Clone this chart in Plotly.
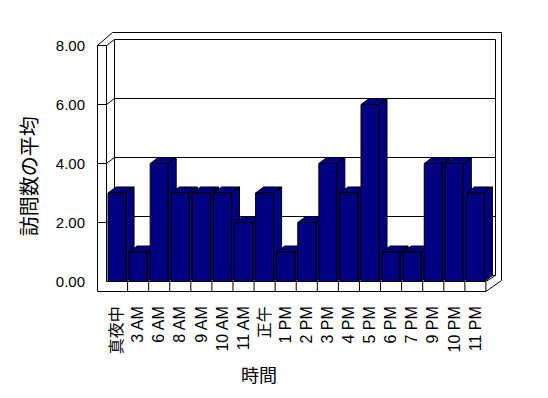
import plotly.graph_objects as go

# ---------------- data ----------------
categories = ["真夜中", "3 AM", "6 AM", "8 AM", "9 AM", "10 AM", "11 AM", "正午",
              "1 PM", "2 PM", "3 PM", "4 PM", "5 PM", "6 PM", "7 PM", "9 PM",
              "10 PM", "11 PM"]
avg_visits = [3, 1, 4, 3, 3, 3, 2, 3, 1, 2, 4, 3, 6, 1, 1, 4, 4, 3]
y_ticks = [0, 2, 4, 6, 8]
y_tick_labels = ["0.00", "2.00", "4.00", "6.00", "8.00"]
y_title = "訪問数の平均"
x_title = "時間"

# ---------------- geometry (pixels) ----------------
W, H = 548, 398
ML, MR, MT, MB = 90, 38, 20, 101
PW, PH = W - ML - MR, H - MT - MB
PITCH = 21.08      # px per category
X0PX = 106.5       # pixel of left floor edge (category -0.5)
YU = 29.5          # px per value unit
Y0PX = 281.5       # pixel of front zero level
DXPX, DYPX = 8.0, 6.0   # depth offset in px


def px2x(p):
    return (p - X0PX) / PITCH - 0.5


def px2y(p):
    return (Y0PX - p) / YU


DX = DXPX / PITCH
DY = DYPX / YU
BW = 9.0 / PITCH   # half bar width

x_range = [px2x(ML), px2x(W - MR)]
y_range = [px2y(H - MB), px2y(MT)]

NAVY = "#000080"
FONT_LAT = "Liberation Sans, Arial, Noto Sans CJK JP, sans-serif"
FONT_CJK = "Noto Sans CJK JP, sans-serif"

fig = go.Figure()

# ---------------- 3D bars (side, top, front faces) ----------------
for i, v in enumerate(avg_visits):
    xl, xr = i - BW, i + BW
    side = [(xr, 0), (xr + DX, DY), (xr + DX, v + DY), (xr, v), (xr, 0)]
    top = [(xl, v), (xr, v), (xr + DX, v + DY), (xl + DX, v + DY), (xl, v)]
    front = [(xl, 0), (xr, 0), (xr, v), (xl, v), (xl, 0)]
    xs, ys = [], []
    for poly in (side, top, front):
        xs += [p[0] for p in poly] + [None]
        ys += [p[1] for p in poly] + [None]
    fig.add_trace(go.Scatter(
        x=xs, y=ys, mode="lines", fill="toself", fillcolor=NAVY,
        line=dict(color="black", width=1), hoverinfo="skip",
        showlegend=False, name=categories[i]))

# ---------------- walls / floor (decoration shapes) ----------------
def path(points, close=True):
    s = "M " + " L ".join(f"{px2x(a)},{px2y(b)}" for a, b in points)
    return s + (" Z" if close else "")


shapes = []
LINE = dict(color="black", width=1)
outer = [(97.5, 45.5), (97.5, 291.5), (485.9, 291.5), (501.5, 280.5),
         (501.5, 32.5), (112.5, 32.5)]
shapes.append(dict(type="path", path=path(outer), xref="x", yref="y",
                   fillcolor="white", line=LINE, layer="below"))
back = [(114.5, 39.5), (495.5, 39.5), (495.5, 275.5), (114.5, 275.5)]
shapes.append(dict(type="path", path=path(back), xref="x", yref="y",
                   fillcolor="white", line=LINE, layer="below"))
shapes.append(dict(type="path", path=path([(97.5, 45.5), (106.5, 45.5), (114.5, 39.5)], False),
                   xref="x", yref="y", line=LINE, layer="below"))
shapes.append(dict(type="path",
                   path=path([(106.5, 45.5), (106.5, 281.5), (485.9, 281.5), (485.9, 291.5)], False),
                   xref="x", yref="y", line=LINE, layer="below"))
shapes.append(dict(type="path", path=path([(485.9, 281.5), (495.5, 275.5)], False),
                   xref="x", yref="y", line=LINE, layer="below"))
for v in y_ticks[1:-1]:
    fy = Y0PX - v * YU
    by = fy - DYPX
    shapes.append(dict(type="path", path=path([(114.5, by), (495.5, by)], False),
                       xref="x", yref="y", line=LINE, layer="below"))
    shapes.append(dict(type="path", path=path([(97.5, fy), (106.5, fy), (114.5, by)], False),
                       xref="x", yref="y", line=LINE, layer="below"))
for k in range(1, len(categories)):
    xp = X0PX + PITCH * k
    shapes.append(dict(type="path", path=path([(xp, 281.5), (xp, 291.5)], False),
                       xref="x", yref="y", line=LINE, layer="below"))

fig.update_layout(
    width=W, height=H,
    margin=dict(l=ML, r=MR, t=MT, b=MB, pad=0),
    paper_bgcolor="white", plot_bgcolor="white",
    shapes=shapes,
    showlegend=False,
    xaxis=dict(range=x_range, tickvals=list(range(len(categories))), ticktext=categories,
               tickangle=-90, showgrid=False, zeroline=False, showline=False, ticks="",
               tickfont=dict(family=FONT_LAT, size=16, color="black"),
               ticklabelstandoff=5, fixedrange=True),
    yaxis=dict(range=y_range, tickvals=y_ticks, ticktext=y_tick_labels,
               showgrid=False, zeroline=False, showline=False, ticks="",
               tickfont=dict(family=FONT_LAT, size=15, color="black"),
               ticklabelstandoff=4, fixedrange=True),
    annotations=[
        dict(text=y_title, textangle=-90, xref="paper", yref="paper",
             x=0, xshift=28.5 - ML, y=(H - MB - 176.7) / PH,
             xanchor="center", yanchor="middle", showarrow=False,
             font=dict(family=FONT_CJK, size=20, color="black")),
        dict(text=x_title, xref="paper", yref="paper",
             x=(259 - ML) / PW, y=(H - MB - 374) / PH,
             xanchor="center", yanchor="middle", showarrow=False,
             font=dict(family=FONT_CJK, size=18, color="black")),
    ],
)

fig.write_html("out.html")
